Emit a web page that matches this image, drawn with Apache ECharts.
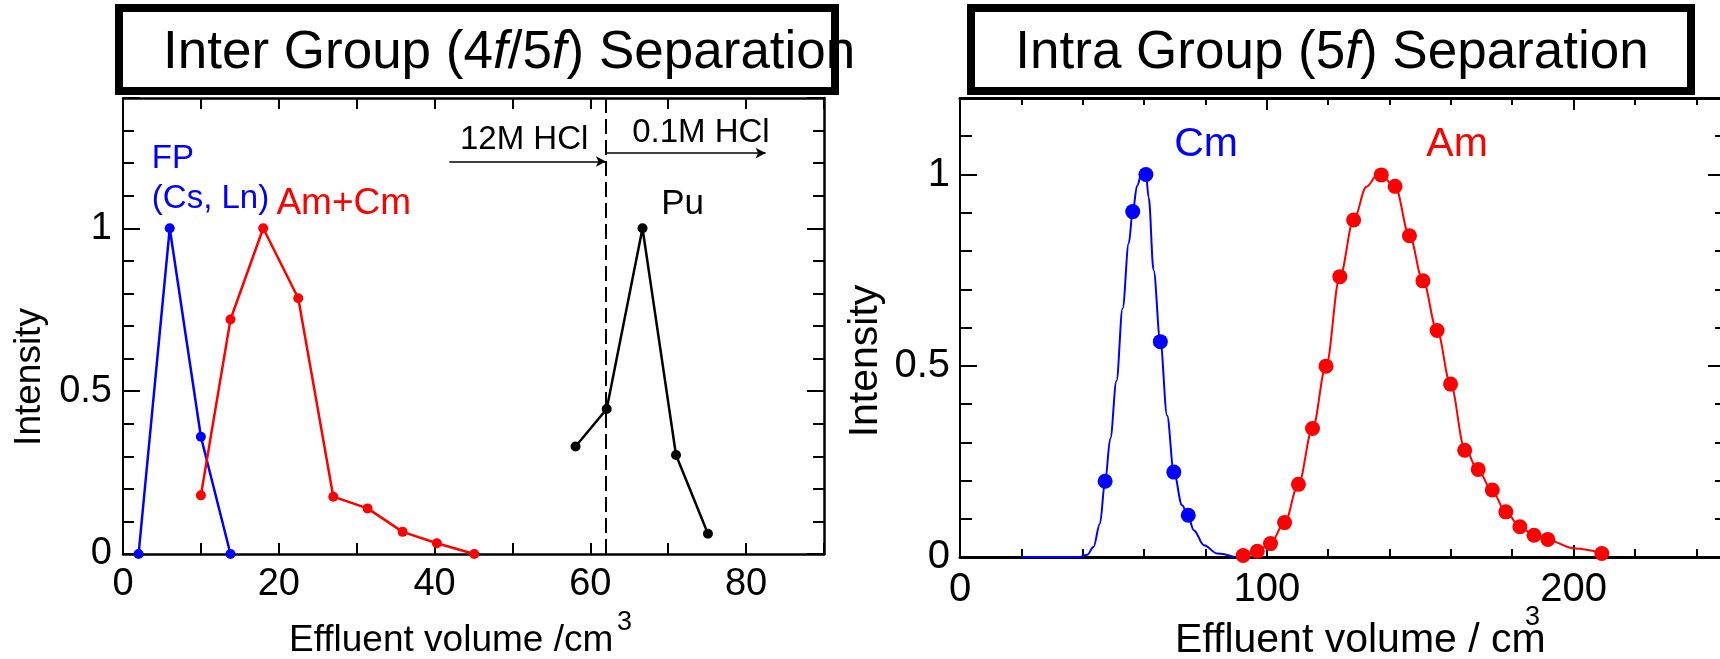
<!DOCTYPE html>
<html>
<head>
<meta charset="utf-8">
<script src="https://cdn.jsdelivr.net/npm/echarts@6/dist/echarts.min.js"></script>
<style>
  html, body { margin: 0; padding: 0; background: #fff; }
  #chart { width: 1720px; height: 659px; }
</style>
</head>
<body>
<div id="chart"></div>
<script>
// ---- Inter group (4f/5f) separation: elution profiles [volume cm3, intensity]
const fpData   = [[2, 0], [6, 1], [10, 0.36], [13.8, 0]];
const amcmData = [[10, 0.18], [13.8, 0.72], [18, 1], [22.5, 0.785], [27, 0.176],
                  [31.4, 0.14], [35.9, 0.068], [40.3, 0.033], [45.1, 0]];
const puData   = [[58.1, 0.33], [62.1, 0.445], [66.7, 1], [71, 0.304], [75.1, 0.062]];
const eluentSwitch = 62;            // 12M HCl -> 0.1M HCl
const hclArrow12  = [[41.9, 1.205], [62, 1.205]];
const hclArrow01  = [[62, 1.231], [82.5, 1.231]];

// ---- Intra group (5f) separation: measured fractions and fitted curves
const cmPoints = [[47.3, 0.198], [56.3, 0.903], [60.6, 1.0], [65.3, 0.563], [69.7, 0.222], [74.4, 0.109]];
const amPoints = [[92.3, 0.004], [96.9, 0.015], [101.2, 0.035], [105.8, 0.09], [110.3, 0.19],
                  [114.9, 0.336], [119.3, 0.499], [123.8, 0.733], [128.3, 0.881], [137.3, 0.999],
                  [141.8, 0.969], [146.5, 0.84], [150.9, 0.722], [155.5, 0.592], [159.9, 0.452],
                  [164.5, 0.279], [168.9, 0.229], [173.5, 0.175], [177.9, 0.118], [182.5, 0.079],
                  [187.1, 0.057], [191.6, 0.046], [209.2, 0.009]];
const cmCurve = [[20, 0], [39, 0], [41.5, 0.006], [43.5, 0.026], [45.6, 0.087], [47.3, 0.198],
                 [49, 0.31], [51, 0.46], [53, 0.65], [55, 0.82], [56.3, 0.903], [57.7, 0.97],
                 [59.3, 1.005], [60.6, 1.0], [61.5, 0.94], [63.1, 0.75], [65.3, 0.563], [67.5, 0.37],
                 [69.7, 0.222], [72.4, 0.135], [74.4, 0.105], [76.2, 0.07], [79.5, 0.031],
                 [83.9, 0.009], [89.3, 0]];
const amCurve = [[91, 0.002], [92.3, 0.004], [96.9, 0.015], [101.2, 0.036], [105.8, 0.09],
                 [110.3, 0.19], [114.9, 0.336], [119.3, 0.499], [123.8, 0.733], [128.3, 0.881],
                 [132.5, 0.968], [136.5, 1.004], [141.8, 0.969], [146.5, 0.84],
                 [150.9, 0.722], [155.5, 0.592], [159.9, 0.452], [164.5, 0.285], [168.9, 0.226],
                 [173.5, 0.172], [177.9, 0.118], [182.5, 0.079], [187.1, 0.057], [191.6, 0.044],
                 [200.5, 0.022], [209.2, 0.01]];

// ---- axis ranges and tick labels
const leftX  = { min: 0, max: 90,  interval: 20,  minor: 2 };
const leftY  = { min: 0, max: 1.4, interval: 0.5, minor: 5 };
const rightX = { min: 0, max: 250, interval: 100, minor: 5 };
const rightY = { min: 0, max: 1.2, interval: 0.5, minor: 5 };

const FONT = '"Liberation Sans", Arial, Helvetica, sans-serif';
const BLUE = '#0000ff', RED = '#ff0000', BLACK = '#000000';

function makeAxis(grid, range, pos, showLabel, o) {
  return {
    type: 'value', gridIndex: grid, position: pos,
    min: range.min, max: range.max, interval: range.interval,
    axisLine: { show: true, onZero: false, lineStyle: { color: BLACK, width: o.line } },
    axisTick: { show: true, inside: true, length: o.major, lineStyle: { color: BLACK, width: 2 } },
    minorTick: { show: true, splitNumber: range.minor, length: o.minor, lineStyle: { color: BLACK, width: 2 } },
    splitLine: { show: false }, minorSplitLine: { show: false },
    axisLabel: {
      show: showLabel, color: BLACK, fontFamily: FONT, fontSize: o.font, margin: o.margin,
      showMaxLabel: false, showMinLabel: true, hideOverlap: false
    }
  };
}

const chart = echarts.init(document.getElementById('chart'), null, { renderer: 'canvas' });

const option = {
  animation: false,
  backgroundColor: '#ffffff',
  grid: [
    { left: 123, top: 98, width: 701, bottom: 105, containLabel: false, outerBoundsMode: 'none' },
    { left: 960, top: 98, right: -7, bottom: 102, containLabel: false, outerBoundsMode: 'none' }
  ],
  xAxis: [
    makeAxis(0, leftX, 'bottom', true,  { line: 2.5, major: 11, minor: 11, font: 38, margin: 12 }),
    makeAxis(0, leftX, 'top',    false, { line: 2.5, major: 11, minor: 11, font: 38, margin: 12 }),
    makeAxis(1, rightX, 'bottom', true,  { line: 3, major: 12, minor: 8, font: 40, margin: 13 }),
    makeAxis(1, rightX, 'top',    false, { line: 3, major: 12, minor: 7, font: 40, margin: 13 })
  ],
  yAxis: [
    makeAxis(0, leftY, 'left',  true,  { line: 2, major: 17, minor: 11, font: 38, margin: 11 }),
    makeAxis(0, leftY, 'right', false, { line: 2.5, major: 17, minor: 11, font: 38, margin: 11 }),
    makeAxis(1, rightY, 'left',  true,  { line: 2, major: 17, minor: 12, font: 40, margin: 10 }),
    makeAxis(1, rightY, 'right', false, { line: 2, major: 19, minor: 12, font: 40, margin: 10 })
  ],
  series: [
    {
      name: 'FP (Cs, Ln)', type: 'line', xAxisIndex: 0, yAxisIndex: 0, data: fpData,
      color: BLUE, symbol: 'circle', symbolSize: 10, lineStyle: { width: 2.5, color: BLUE },
      itemStyle: { color: BLUE }
    },
    {
      name: 'Am+Cm', type: 'line', xAxisIndex: 0, yAxisIndex: 0, data: amcmData,
      color: RED, symbol: 'circle', symbolSize: 10, lineStyle: { width: 2.5, color: RED },
      itemStyle: { color: RED }
    },
    {
      name: 'Pu', type: 'line', xAxisIndex: 0, yAxisIndex: 0, data: puData,
      color: BLACK, symbol: 'circle', symbolSize: 10, lineStyle: { width: 2.5, color: BLACK },
      itemStyle: { color: BLACK },
      markLine: {
        silent: true, animation: false, label: { show: false },
        lineStyle: { color: BLACK },
        data: [
          [{ coord: [eluentSwitch, leftY.min], symbol: 'none', lineStyle: { type: [15, 6], width: 2 } },
           { coord: [eluentSwitch, leftY.max], symbol: 'none' }],
          [{ coord: hclArrow12[0], symbol: 'none', lineStyle: { type: 'solid', width: 1.5 } },
           { coord: hclArrow12[1], symbol: 'arrow', symbolSize: [8, 10] }],
          [{ coord: hclArrow01[0], symbol: 'none', lineStyle: { type: 'solid', width: 1.5 } },
           { coord: hclArrow01[1], symbol: 'arrow', symbolSize: [8, 10] }]
        ]
      }
    },
    {
      name: 'Cm fit', type: 'line', xAxisIndex: 2, yAxisIndex: 2, data: cmCurve,
      symbol: 'none', smooth: 0.35, smoothMonotone: 'x', lineStyle: { width: 2, color: BLUE }, color: BLUE
    },
    {
      name: 'Am fit', type: 'line', xAxisIndex: 2, yAxisIndex: 2, data: amCurve,
      symbol: 'none', smooth: 0.35, smoothMonotone: 'x', lineStyle: { width: 2, color: RED }, color: RED
    },
    {
      name: 'Cm', type: 'scatter', xAxisIndex: 2, yAxisIndex: 2, data: cmPoints,
      symbol: 'circle', symbolSize: 15, itemStyle: { color: BLUE, opacity: 1 }
    },
    {
      name: 'Am', type: 'scatter', xAxisIndex: 2, yAxisIndex: 2, data: amPoints,
      symbol: 'circle', symbolSize: 15, itemStyle: { color: RED, opacity: 1 }
    }
  ]
};

chart.setOption(option);

// ---- annotations placed at data coordinates
const leftNotes = [
  { text: 'FP',        at: [3.7, 1.218], color: BLUE,  size: 33, align: 'left' },
  { text: '(Cs, Ln)',  at: [3.7, 1.095], color: BLUE,  size: 33, align: 'left' },
  { text: 'Am+Cm',     at: [19.7, 1.08], color: RED,   size: 37, align: 'left' },
  { text: 'Pu',        at: [69.1, 1.08], color: BLACK, size: 35, align: 'left' },
  { text: '12M HCl',   at: [51.5, 1.279], color: BLACK, size: 33, align: 'center' },
  { text: '0.1M HCl',  at: [74.2, 1.30],  color: BLACK, size: 33, align: 'center' }
];
const rightNotes = [
  { text: 'Cm', at: [69.8, 1.082], color: BLUE, size: 41, align: 'left' },
  { text: 'Am', at: [152, 1.082],  color: RED,  size: 41, align: 'left' }
];

function noteGraphic(n, grid) {
  const p = chart.convertToPixel({ gridIndex: grid }, n.at);
  return {
    type: 'text', x: p[0], y: p[1] + 2, silent: true,
    style: { text: n.text, fill: n.color, fontFamily: FONT, fontSize: n.size,
             align: n.align, verticalAlign: 'middle' }
  };
}

const graphics = [];
leftNotes.forEach(n => graphics.push(noteGraphic(n, 0)));
rightNotes.forEach(n => graphics.push(noteGraphic(n, 1)));

// panel titles in framed boxes
graphics.push(
  { type: 'rect', shape: { x: 119, y: 8, width: 716, height: 83 }, silent: true,
    style: { fill: 'none', stroke: BLACK, lineWidth: 8 } },
  { type: 'text', x: 163, y: 53, silent: true,
    style: {
      text: '{n|Inter Group (4}{i|f}{n|/5}{i|f}{n|) Separation}',
      fontFamily: FONT, fontSize: 53, fill: BLACK, align: 'left', verticalAlign: 'middle',
      rich: {
        n: { fontFamily: FONT, fontSize: 53, fill: BLACK },
        i: { fontFamily: FONT, fontSize: 53, fill: BLACK, fontStyle: 'italic' }
      }
    } },
  { type: 'rect', shape: { x: 971, y: 8, width: 720, height: 83 }, silent: true,
    style: { fill: 'none', stroke: BLACK, lineWidth: 8 } },
  { type: 'text', x: 1332, y: 53, silent: true,
    style: {
      text: '{n|Intra Group (5}{i|f}{n|) Separation}',
      fontFamily: FONT, fontSize: 53, fill: BLACK, align: 'center', verticalAlign: 'middle',
      rich: {
        n: { fontFamily: FONT, fontSize: 53, fill: BLACK },
        i: { fontFamily: FONT, fontSize: 53, fill: BLACK, fontStyle: 'italic' }
      }
    } }
);

// axis names
graphics.push(
  { type: 'text', x: 30, y: 377, rotation: Math.PI / 2, silent: true,
    style: { text: 'Intensity', fontFamily: FONT, fontSize: 37, fill: BLACK, align: 'center', verticalAlign: 'middle' } },
  { type: 'text', x: 866, y: 361, rotation: Math.PI / 2, silent: true,
    style: { text: 'Intensity', fontFamily: FONT, fontSize: 41, fill: BLACK, align: 'center', verticalAlign: 'middle' } },
  { type: 'text', x: 289, y: 641, silent: true,
    style: { text: 'Effluent volume /cm', fontFamily: FONT, fontSize: 37, fill: BLACK, align: 'left', verticalAlign: 'middle' } },
  { type: 'text', x: 617, y: 623, silent: true,
    style: { text: '3', fontFamily: FONT, fontSize: 27, fill: BLACK, align: 'left', verticalAlign: 'middle' } },
  { type: 'text', x: 1175, y: 641, silent: true,
    style: { text: 'Effluent volume / cm', fontFamily: FONT, fontSize: 41, fill: BLACK, align: 'left', verticalAlign: 'middle' } },
  { type: 'text', x: 1525, y: 618, silent: true,
    style: { text: '3', fontFamily: FONT, fontSize: 27, fill: BLACK, align: 'left', verticalAlign: 'middle' } }
);

chart.setOption({ graphic: graphics });
</script>
</body>
</html>
